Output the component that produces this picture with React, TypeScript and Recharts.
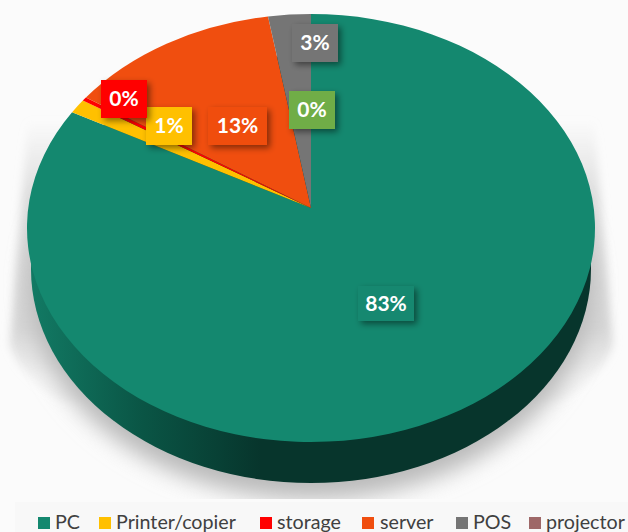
import React from "react";
import { PieChart, Pie, Legend } from "recharts";

const categories = ["PC", "Printer/copier", "storage", "server", "POS", "projector", "other"];
const shares = [83.1, 1.1, 0.3, 12.9, 2.6, 0, 0];
const colors = ["#14886F", "#FFC000", "#FF0000", "#F04E0F", "#757575", "#9E6868", "#70AD47"];
const labelBoxes: Record<string, [number, number, number, number] | null> = {
  PC: [358, 286, 56, 35],
  "Printer/copier": [146, 107, 46, 38],
  storage: [101, 80, 46, 38],
  server: [208, 107, 59, 38],
  POS: [292, 24, 46, 38],
  projector: null,
  other: [289, 91, 46, 38],
};
const legendX: Record<string, [number, number]> = {
  PC: [38, 55],
  "Printer/copier": [99, 116],
  storage: [260, 277],
  server: [362, 380],
  POS: [456, 473],
  projector: [529, 546],
};

const data = categories.map((name, i) => ({ name, value: shares[i], fill: colors[i] }));

const W = 628;
const H = 532;
const APEX_X = 311;
const APEX_Y = 208;
const RX = 284;
const RY = 214;
const ELL_CY = 228;
const K = 0.93;
const FONT = "Lato, 'Open Sans', sans-serif";

function project(angleDeg: number) {
  const theta = ((90 - angleDeg) * Math.PI) / 180;
  const t = 2 * Math.atan2(K * Math.sin(theta / 2), Math.cos(theta / 2));
  return { t, x: APEX_X + RX * Math.sin(t), y: ELL_CY - RY * Math.cos(t) };
}

function PerspectiveSector(props: any) {
  const { startAngle, endAngle, fill } = props;
  if (Math.abs(startAngle - endAngle) < 0.01) return null;
  const a = project(startAngle);
  const b = project(endAngle);
  const large = b.t - a.t > Math.PI ? 1 : 0;
  const d = `M${APEX_X},${APEX_Y} L${a.x},${a.y} A${RX},${RY} 0 ${large} 1 ${b.x},${b.y} Z`;
  return <path d={d} fill={fill} />;
}

function renderLabel(props: any) {
  const { index, percent } = props;
  const name = categories[index];
  const box = labelBoxes[name];
  if (!box) return null;
  const [x, y, w, h] = box;
  return (
    <g key={name}>
      <rect x={x} y={y} width={w} height={h} fill={colors[index]} filter="url(#labelShadow)" />
      <text
        x={x + w / 2}
        y={y + h / 2 + 7}
        textAnchor="middle"
        fontFamily={FONT}
        fontWeight={700}
        fontSize={21}
        fill="#FFFFFF"
      >
        {`${Math.round(percent * 100)}%`}
      </text>
    </g>
  );
}

function LegendStrip(props: any) {
  const items = (props.payload || []).filter((p: any) => legendX[p.value]);
  return (
    <div style={{ position: "relative", width: W - 15, height: 30, marginLeft: 15, background: "#F8F8F8", overflow: "hidden" }}>
      {items.map((p: any) => {
        const [mx, tx] = legendX[p.value];
        return (
          <React.Fragment key={p.value}>
            <span style={{ position: "absolute", left: mx - 15, top: 15, width: 12, height: 12, background: p.color }} />
            <span
              style={{
                position: "absolute",
                left: tx - 15,
                top: 11,
                fontFamily: FONT,
                fontSize: 19.7,
                lineHeight: "18px",
                color: "#404040",
                whiteSpace: "nowrap",
              }}
            >
              {p.value}
            </span>
          </React.Fragment>
        );
      })}
    </div>
  );
}

export default function App() {
  return (
    <div style={{ position: "absolute", left: 0, top: 0, width: W, height: H, overflow: "hidden", background: "#FBFBFB" }}>
      <PieChart width={W} height={H} margin={{ top: 0, right: 0, bottom: 0, left: 0 }}>
        <defs>
          <filter id="labelShadow" x="-30%" y="-30%" width="170%" height="170%">
            <feDropShadow dx="3" dy="3" stdDeviation="3" floodColor="#000000" floodOpacity="0.45" />
          </filter>
          <filter id="soft" x="-20%" y="-20%" width="140%" height="140%">
            <feGaussianBlur stdDeviation="11" />
          </filter>
          <filter id="softWall" x="-10%" y="-10%" width="120%" height="120%">
            <feGaussianBlur stdDeviation="4" />
          </filter>
          <clipPath id="shadowClip">
            <rect x="0" y="0" width={W} height="499" />
          </clipPath>
          <linearGradient id="wall" gradientUnits="userSpaceOnUse" x1="0" y1="120" x2="0" y2="380">
            <stop offset="0" stopColor="#D0D0D0" stopOpacity="0" />
            <stop offset="0.3" stopColor="#D0D0D0" stopOpacity="0.7" />
            <stop offset="0.8" stopColor="#D0D0D0" stopOpacity="0.85" />
            <stop offset="1" stopColor="#D0D0D0" stopOpacity="0.2" />
          </linearGradient>
          <linearGradient id="side" x1="0" y1="0" x2="1" y2="0">
            <stop offset="0" stopColor="#127A64" />
            <stop offset="0.2" stopColor="#0A5545" />
            <stop offset="0.41" stopColor="#07352C" />
            <stop offset="1" stopColor="#07352C" />
          </linearGradient>
        </defs>
        <g clipPath="url(#shadowClip)">
          <path d="M28,120 L594,120 L613,345 Q600,380 560,400 L62,400 Q22,380 10,345 Z" fill="url(#wall)" filter="url(#softWall)" />
          <ellipse cx={311} cy={285} rx={282} ry={214} fill="#BABABA" filter="url(#soft)" />
        </g>
        <ellipse cx={311} cy={269} rx={280} ry={214} fill="url(#side)" />
        <Pie
          data={data}
          dataKey="value"
          nameKey="name"
          cx={APEX_X}
          cy={APEX_Y}
          innerRadius={0}
          outerRadius={RY}
          startAngle={90}
          endAngle={-270}
          stroke="none"
          isAnimationActive={false}
          shape={PerspectiveSector}
          label={renderLabel}
          labelLine={false}
        />
        <Legend
          content={LegendStrip}
          wrapperStyle={{ position: "absolute", left: 0, top: 502, width: W, height: 30 }}
        />
      </PieChart>
    </div>
  );
}
